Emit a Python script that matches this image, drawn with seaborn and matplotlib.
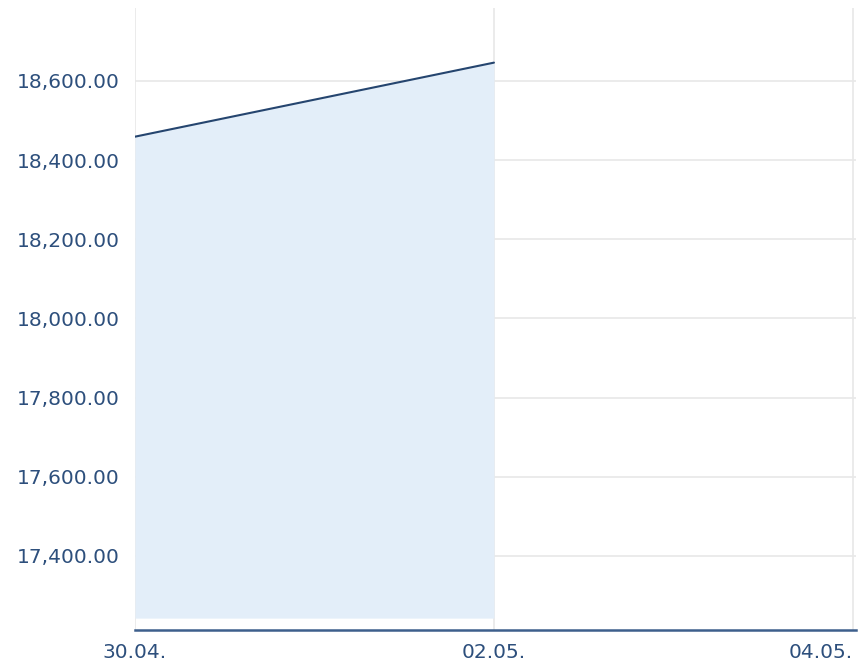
import matplotlib
matplotlib.use('Agg')
import matplotlib.pyplot as plt
import matplotlib.dates as mdates
import pandas as pd
import seaborn as sns

# ── Data ─────────────────────────────────────────────────────────────────────
dates  = pd.to_datetime(['2024-04-30', '2024-05-02'])
values = [18459, 18646]
fill_base = 17243

x_ticks = pd.to_datetime(['2024-04-30', '2024-05-02', '2024-05-04'])
y_ticks = [17400, 17600, 17800, 18000, 18200, 18400, 18600]

# ── Style ────────────────────────────────────────────────────────────────────
sns.set_style('white')
plt.rcParams['font.family'] = ['DejaVu Sans']

TEXT  = '#2d4f7c'
LINE  = '#25456f'
FILL  = '#e3eef9'
GRID  = '#e8e8e8'
AXIS  = '#3d5f8c'

df = pd.DataFrame({'date': dates, 'value': values})

fig = plt.figure(figsize=(8.61, 6.63), dpi=100)
ax = fig.add_axes([135 / 861, 1 - 630 / 663, 721 / 861, 622 / 663])

ax.fill_between(df['date'], df['value'], fill_base, color=FILL, lw=0, zorder=1)
sns.lineplot(data=df, x='date', y='value', ax=ax, color=LINE, lw=1.5, zorder=3)

ax.set_xlim(pd.Timestamp('2024-04-30'), pd.Timestamp('2024-05-04 00:25'))
ax.set_ylim(17213, 18784)

ax.set_xticks(x_ticks)
ax.xaxis.set_major_formatter(mdates.DateFormatter('%d.%m.'))
ax.set_yticks(y_ticks)
ax.set_yticklabels([f'{v:,.2f}' for v in y_ticks])

ax.grid(True, color=GRID, lw=1.2, zorder=0)
ax.set_axisbelow(True)

for s in ['top', 'right', 'left']:
    ax.spines[s].set_visible(False)
ax.spines['bottom'].set_color(AXIS)
ax.spines['bottom'].set_linewidth(1.8)

ax.tick_params(axis='both', length=0, labelsize=14.5, colors=TEXT)
ax.tick_params(axis='y', pad=11)
ax.tick_params(axis='x', pad=9)
ax.set_xlabel('')
ax.set_ylabel('')

labels = ax.get_xticklabels()
labels[-1].set_ha('right')

plt.savefig('out.png', dpi=100)
plt.close()
